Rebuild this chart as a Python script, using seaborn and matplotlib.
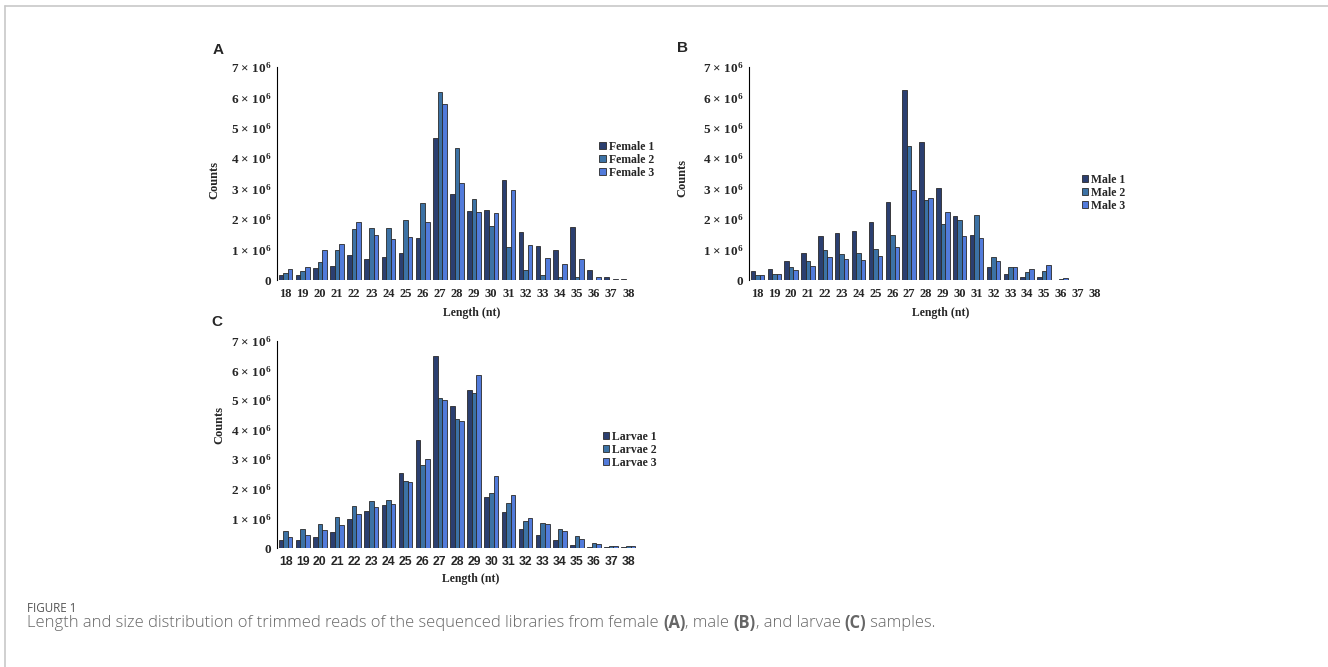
import pandas as pd
import seaborn as sns
import matplotlib.pyplot as plt
from matplotlib.lines import Line2D
from matplotlib.ticker import FuncFormatter, MultipleLocator

# read lengths (nt) and counts (millions) off the figure
lengths = list(range(18, 39))

female_1 = [0.15, 0.18, 0.39, 0.47, 0.83, 0.70, 0.74, 0.89, 1.37, 4.66, 2.81,
            2.27, 2.31, 3.28, 1.57, 1.13, 1.00, 1.74, 0.33, 0.11, 0.04]
female_2 = [0.22, 0.31, 0.60, 0.97, 1.66, 1.72, 1.72, 1.98, 2.53, 6.19, 4.33,
            2.66, 1.78, 1.07, 0.32, 0.17, 0.09, 0.09, 0.01, 0.01, 0.01]
female_3 = [0.36, 0.44, 0.98, 1.19, 1.89, 1.47, 1.36, 1.41, 1.91, 5.78, 3.18,
            2.22, 2.20, 2.96, 1.16, 0.72, 0.52, 0.70, 0.10, 0.03, 0.01]

male_1 = [0.31, 0.35, 0.61, 0.90, 1.44, 1.54, 1.60, 1.92, 2.57, 6.25, 4.53,
          3.02, 2.11, 1.47, 0.43, 0.21, 0.10, 0.09, 0.01, 0.005, 0.003]
male_2 = [0.15, 0.19, 0.43, 0.61, 0.99, 0.84, 0.89, 1.02, 1.48, 4.40, 2.62,
          1.83, 1.97, 2.12, 0.76, 0.43, 0.26, 0.30, 0.03, 0.01, 0.004]
male_3 = [0.16, 0.19, 0.34, 0.46, 0.74, 0.70, 0.65, 0.78, 1.09, 2.95, 2.70,
          2.25, 1.44, 1.38, 0.64, 0.43, 0.36, 0.49, 0.06, 0.015, 0.004]

larvae_1 = [0.28, 0.27, 0.37, 0.54, 0.97, 1.25, 1.44, 2.55, 3.66, 6.50, 4.81,
            5.33, 1.72, 1.21, 0.63, 0.44, 0.27, 0.11, 0.05, 0.02, 0.02]
larvae_2 = [0.56, 0.63, 0.82, 1.06, 1.43, 1.60, 1.63, 2.25, 2.80, 5.07, 4.35,
            5.24, 1.85, 1.51, 0.90, 0.84, 0.65, 0.41, 0.17, 0.08, 0.07]
larvae_3 = [0.36, 0.43, 0.60, 0.78, 1.16, 1.38, 1.48, 2.22, 3.02, 5.00, 4.29,
            5.85, 2.42, 1.78, 1.03, 0.80, 0.59, 0.32, 0.12, 0.06, 0.06]

colors = ['#1f3a7c', '#2b72b6', '#3b72f2']

sns.set_style('white')
plt.rcParams['font.family'] = 'Liberation Serif'
plt.rcParams['font.weight'] = 'bold'
plt.rcParams['mathtext.fontset'] = 'custom'
plt.rcParams['mathtext.rm'] = 'Liberation Serif:bold'
plt.rcParams['mathtext.bf'] = 'Liberation Serif:bold'
plt.rcParams['mathtext.it'] = 'Liberation Serif:bold'

W, H = 1328, 667
fig = plt.figure(figsize=(W / 100, H / 100), dpi=100)


def make_df(names, series):
    rows = []
    for name, vals in zip(names, series):
        for l, v in zip(lengths, vals):
            rows.append({'length': l, 'count': v * 1e6, 'sample': name})
    return pd.DataFrame(rows)


def fmt(v, pos):
    n = int(round(v / 1e6))
    return '0' if n == 0 else f'{n} × 10$^{{6}}$'


def panel(rect, names, series, leg_xy, ylab_xy, xlab_xy, sans_xticks=False):
    ax = fig.add_axes(rect)
    df = make_df(names, series)
    sns.barplot(data=df, x='length', y='count', hue='sample', palette=colors,
                edgecolor='#2a2a2a', linewidth=0.6, width=0.8, ax=ax)
    ax.set_xlim(-0.5, 20.5)
    ax.set_ylim(0, 7e6)
    ax.yaxis.set_major_locator(MultipleLocator(1e6))
    ax.yaxis.set_major_formatter(FuncFormatter(fmt))
    for s in ['top', 'right', 'bottom']:
        ax.spines[s].set_visible(False)
    ax.spines['left'].set_color('black')
    ax.spines['left'].set_linewidth(0.8)
    ax.tick_params(axis='both', length=0)
    ax.tick_params(axis='y', pad=4, labelsize=9.5)
    if sans_xticks:
        ax.tick_params(axis='x', pad=6, labelsize=8.8,
                       labelfontfamily='Liberation Sans')
    else:
        ax.tick_params(axis='x', pad=6, labelsize=9)
    ax.set_xlabel('Length (nt)', fontsize=8.5, fontweight='bold')
    ax.set_ylabel('Counts', fontsize=9, fontweight='bold')
    ax.xaxis.set_label_coords(*xlab_xy)
    ax.yaxis.set_label_coords(*ylab_xy)
    sns.move_legend(ax, 'center left', bbox_to_anchor=leg_xy, frameon=False,
                    title=None, fontsize=8.5, handlelength=0.55,
                    handleheight=0.55, handletextpad=0.25, labelspacing=0.08,
                    borderpad=0, borderaxespad=0)
    return ax


panel([0.2086, 0.5802, 0.271, 0.3194], ['Female 1', 'Female 2', 'Female 3'],
      [female_1, female_2, female_3], (0.895, 0.565), (-0.158, 0.47), (0.54, -0.127))
panel([0.564, 0.5802, 0.2666, 0.3194], ['Male 1', 'Male 2', 'Male 3'],
      [male_1, male_2, male_3], (0.94, 0.41), (-0.172, 0.48), (0.542, -0.127))
panel([0.2086, 0.1784, 0.271, 0.3104], ['Larvae 1', 'Larvae 2', 'Larvae 3'],
      [larvae_1, larvae_2, larvae_3], (0.905, 0.475), (-0.144, 0.594), (0.539, -0.121),
      sans_xticks=True)

# panel letters
for letter, x, y in [('A', 218, 50), ('B', 683, 48), ('C', 217, 322)]:
    fig.text(x / W, 1 - y / H, letter, family='Liberation Sans', fontweight='bold',
             fontsize=11, ha='center', va='center')

# frame lines of the figure box
fig.add_artist(Line2D([5 / W, 1], [1 - 6 / H, 1 - 6 / H], color='#c8c8c8', lw=1.2))
fig.add_artist(Line2D([5 / W, 5 / W], [0, 1 - 6 / H], color='#c8c8c8', lw=1.2))

# caption
fig.text(27 / W, 1 - 608 / H, 'FIGURE 1', family='Open Sans', fontweight='normal',
         fontsize=8.4, color='#555555', va='center')
pieces = [('Length and size distribution of trimmed reads of the sequenced libraries from female ', 'light'),
          ('(A)', 'bold'), (', male ', 'light'), ('(B)', 'bold'),
          (', and larvae ', 'light'), ('(C)', 'bold'), (' samples.', 'light')]
renderer = fig.canvas.get_renderer()
x = 27
for s, w in pieces:
    t = fig.text(x / W, 1 - 623 / H, s, family='Open Sans', fontweight=w,
                 fontsize=11.9, color='#666666', va='center')
    bb = t.get_window_extent(renderer)
    x = bb.x1

fig.savefig('out.png', dpi=100)
